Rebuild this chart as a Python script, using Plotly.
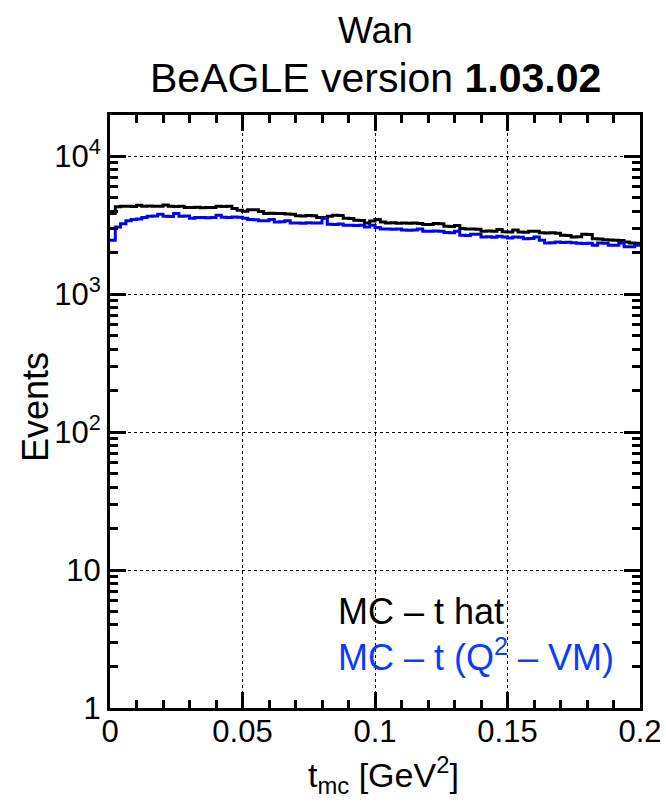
import numpy as np
import plotly.graph_objects as go

# Histogram binning: 100 bins on [0, 0.2] GeV^2
X_MIN, X_MAX, N_BINS = 0.0, 0.2, 100

# MC - t hat (events per bin)
t_hat_counts = [
    3850, 4320, 4340, 4350, 4330, 4420, 4340, 4360, 4350, 4350,
    4440, 4340, 4330, 4350, 4260, 4250, 4270, 4240, 4260, 4250,
    4350, 4330, 4340, 4190, 4060, 4000, 4110, 4100, 3990, 3860,
    3870, 3850, 3860, 3820, 3800, 3710, 3700, 3720, 3710, 3600,
    3600, 3680, 3740, 3730, 3560, 3540, 3440, 3430, 3290, 3400,
    3480, 3340, 3290, 3300, 3280, 3290, 3280, 3290, 3260, 3200,
    3210, 3260, 3250, 3110, 3100, 3150, 3000, 2970, 2980, 2960,
    2870, 2880, 2870, 2950, 2840, 2830, 2920, 2830, 2820, 2870,
    2860, 2790, 2780, 2790, 2770, 2680, 2670, 2600, 2610, 2720,
    2710, 2530, 2520, 2490, 2480, 2460, 2450, 2390, 2350, 2340,
]

# MC - t (Q^2 - VM) (events per bin)
t_q2_vm_counts = [
    2460, 3075, 3250, 3420, 3480, 3520, 3600, 3680, 3690, 3800,
    3680, 3670, 3850, 3680, 3690, 3560, 3600, 3610, 3590, 3600,
    3740, 3620, 3610, 3630, 3620, 3560, 3480, 3470, 3420, 3410,
    3480, 3340, 3350, 3420, 3290, 3290, 3280, 3300, 3290, 3290,
    3560, 3220, 3210, 3230, 3160, 3160, 3150, 3160, 3075, 3160,
    3055, 2970, 2980, 2960, 2970, 2920, 2910, 2920, 2970, 2870,
    2870, 2880, 2860, 2800, 2790, 2870, 2680, 2670, 2720, 2730,
    2600, 2610, 2590, 2640, 2600, 2560, 2600, 2590, 2530, 2540,
    2600, 2460, 2350, 2360, 2390, 2370, 2380, 2360, 2340, 2330,
    2340, 2265, 2350, 2340, 2265, 2270, 2350, 2210, 2215, 2265,
]

x_ticks = [0, 0.05, 0.1, 0.15, 0.2]
x_tick_text = ["0", "0.05", "0.1", "0.15", "0.2"]
y_ticks = [1, 10, 100, 1000, 10000]
y_tick_text = ["1", "10", "10<sup>2</sup>", "10<sup>3</sup>", "10<sup>4</sup>"]

legend_labels = ["MC \u2013 t hat", "MC \u2013 t (Q<sup>2</sup> \u2013 VM)"]
line_colors = ["#000000", "#0000ff"]
text_colors = ["#000000", "#0a3cff"]

FONT = "Liberation Sans, Arial, Helvetica, sans-serif"

W, H = 666, 809
M_L, M_R, M_T, M_B = 110, 26, 115, 101
plot_w = W - M_L - M_R
plot_h = H - M_T - M_B


def px_to_paper_x(px):
    return (px - M_L) / plot_w


def px_to_paper_y(py):
    return (H - M_B - py) / plot_h


edges = np.linspace(X_MIN, X_MAX, N_BINS + 1)

fig = go.Figure()
for counts, color, name in zip([t_hat_counts, t_q2_vm_counts], line_colors, legend_labels):
    fig.add_trace(go.Scatter(
        x=edges,
        y=list(counts) + [counts[-1]],
        mode="lines",
        line=dict(color=color, width=3, shape="hv"),
        name=name,
        showlegend=False,
        hoverinfo="skip",
    ))

axis_common = dict(
    showline=True, linecolor="black", linewidth=3, mirror="ticks",
    ticks="inside", tickcolor="black", tickwidth=2.5,
    showgrid=True, gridcolor="black", gridwidth=1, griddash="dot",
    zeroline=False, automargin=False,
    tickfont=dict(family=FONT, size=31, color="black"),
)

fig.update_xaxes(
    **axis_common,
    range=[X_MIN, X_MAX],
    tickvals=x_ticks, ticktext=x_tick_text, ticklen=16,
    ticklabelstandoff=-6,
    minor=dict(dtick=0.01, tick0=0, ticks="inside", ticklen=8,
               tickwidth=2.5, tickcolor="black", showgrid=False),
)

fig.update_yaxes(
    **axis_common,
    type="log",
    range=[0, 4.3],
    tickvals=y_ticks, ticktext=y_tick_text, ticklen=16,
    minor=dict(dtick="D1", ticks="inside", ticklen=8,
               tickwidth=2.5, tickcolor="black", showgrid=False),
)

# Axis titles
fig.add_annotation(
    x=px_to_paper_x(383), y=px_to_paper_y(775), xref="paper", yref="paper",
    xanchor="center", yanchor="middle", showarrow=False,
    text="t<sub>mc</sub> [GeV<sup>2</sup>]",
    font=dict(family=FONT, size=34, color="black"),
)
fig.add_annotation(
    x=px_to_paper_x(35), y=px_to_paper_y(407), xref="paper", yref="paper",
    xanchor="center", yanchor="middle", showarrow=False, textangle=-90,
    text="Events", font=dict(family=FONT, size=36, color="black"),
)

# Text-only legend in the lower right of the frame
legend_rows_px = [611, 655]
for label, tcolor, row in zip(legend_labels, text_colors, legend_rows_px):
    fig.add_annotation(
        x=px_to_paper_x(336), y=px_to_paper_y(row),
        xref="paper", yref="paper",
        xanchor="left", yanchor="middle", showarrow=False,
        text=label, font=dict(family=FONT, size=36, color=tcolor),
    )

# Two-line title above the frame
fig.add_annotation(
    x=0.5, y=px_to_paper_y(30), xref="paper", yref="paper",
    xanchor="center", yanchor="middle", showarrow=False,
    text="Wan", font=dict(family=FONT, size=37, color="black"),
)
fig.add_annotation(
    x=0.5, y=px_to_paper_y(78), xref="paper", yref="paper",
    xanchor="center", yanchor="middle", showarrow=False,
    text="BeAGLE version <b>1.03.02</b>",
    font=dict(family=FONT, size=41, color="black"),
)

fig.update_layout(
    width=W, height=H,
    margin=dict(l=M_L, r=M_R, t=M_T, b=M_B, autoexpand=False),
    paper_bgcolor="white", plot_bgcolor="white",
    font=dict(family=FONT, color="black"),
)

fig.write_html("out.html")
